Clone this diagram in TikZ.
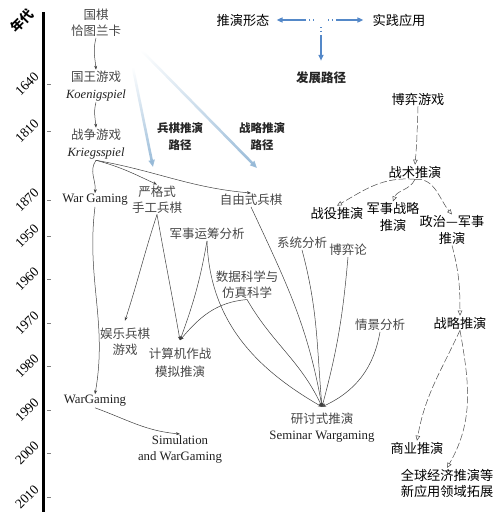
\documentclass[tikz,border=0pt]{standalone}
\usepackage{fontspec}
\setmainfont{Liberation Serif}
\newfontfamily\cjk{Noto Sans CJK SC}
\usetikzlibrary{arrows.meta,fadings}
\definecolor{crossblue}{RGB}{84,136,200}
\definecolor{routeblue}{RGB}{150,185,215}

\tikzset{
  kai/.style={text=black!72, font=\cjk\fontsize{12.5}{16}\selectfont, align=center, inner sep=1pt},
  hei/.style={text=black, font=\cjk\fontsize{13.2}{16.5}\selectfont, align=center, inner sep=1pt},
  latin/.style={text=black!88, font=\fontsize{12.8}{16}\selectfont, align=center, inner sep=1pt},
  lbl/.style={text=black!85, font=\cjk\bfseries\fontsize{11.5}{16.5}\selectfont, align=center, inner sep=1pt},
  arr/.style={draw=black!75, line width=0.5pt, -{Stealth[length=4pt,width=3pt]}},
  dasharr/.style={draw=black!70, line width=0.5pt, dash pattern=on 7pt off 2.5pt, -{Triangle[open,length=5pt,width=4.5pt]}},
  crossarr/.style={draw=crossblue, line width=1.6pt, dash pattern=on 1.2pt off 2.5pt on 1.2pt off 3pt on 80pt, -{Triangle[length=6pt,width=5pt]}},
  routearr/.style={draw=routeblue, line width=2.6pt, -{Triangle[length=7pt,width=6pt]}, path fading=north},
}

\begin{document}
\begin{tikzpicture}[x=1pt,y=1pt,yscale=-1]
\useasboundingbox (0,0) rectangle (500,522);

% Time axis
\draw[line width=3.6pt] (43.5,12) -- (43.5,512);
\node[rotate=45, font=\cjk\bfseries\fontsize{13}{13}\selectfont, inner sep=0pt] (era) at (22,21) {年代};
\foreach \yr/\yy in {1640/84, 1810/131, 1870/200, 1950/236, 1960/279, 1970/323, 1980/366, 1990/410, 2000/453, 2010/497} {
  \draw[black!50] (47,\yy) -- (51,\yy);
  \node[rotate=45, font=\fontsize{13.5}{13.5}\selectfont, inner sep=0pt] (y\yr) at (27,\yy) {\yr};
}

% Legend
\node[hei] (form) at (243,20) {推演形态};
\node[hei] (practice) at (399,20) {实践应用};
\node[lbl, font=\cjk\bfseries\fontsize{12.5}{16}\selectfont] (route) at (321,78) {发展路径};
\coordinate (hubL) at (314,20);
\coordinate (hubR) at (328,20);
\coordinate (hubD) at (321,27);
\draw[crossarr, shorten >=6pt] (hubL) -- (form.east);
\draw[crossarr, shorten >=8pt] (hubR) -- (practice.west);
\draw[crossarr, shorten >=10pt] (hubD) -- (route.north);

% Wargame forms
\node[kai] (chess) at (96,23) {国棋\\恰图兰卡};
\node[kai] (king) at (96,86) {国王游戏\\[1pt]{\rmfamily\itshape\color{black!88} Koenigspiel}};
\node[kai] (kriegs) at (96,144) {战争游戏\\[1pt]{\rmfamily\itshape\color{black!88} Kriegsspiel}};
\node[latin] (wg1) at (95,200) {War Gaming};
\node[kai] (strict) at (157,199.5) {严格式\\手工兵棋};
\node[kai] (free) at (251,200) {自由式兵棋};
\node[kai] (opres) at (207,234) {军事运筹分析};
\node[kai] (data) at (247,284.5) {数据科学与\\仿真科学};
\node[kai] (sysan) at (302,243) {系统分析};
\node[kai] (gamet) at (348,250) {博弈论};
\node[kai] (scene) at (380,325) {情景分析};
\node[kai, outer sep=6pt] (hobby) at (125,341.5) {娱乐兵棋\\游戏};
\node[kai, outer sep=7pt] (comp) at (180,363) {计算机作战\\[2pt]模拟推演};
\node[latin] (wg2) at (95,401) {WarGaming};
\node[latin] (simwg) at (180,449) {Simulation\\and WarGaming};
\node[kai, outer sep=5pt] (seminar) at (322,427.5) {研讨式推演\\{\rmfamily\color{black!88}\fontsize{12.8}{16}\selectfont Seminar Wargaming}};

% Route labels
\node[lbl] (wgpath) at (180,136.5) {兵棋推演\\路径};
\node[lbl] (stpath) at (262,136.5) {战略推演\\路径};
\coordinate (wgfrom) at (133,68);
\coordinate (wgto) at (153,167);
\coordinate (stfrom) at (142,51);
\coordinate (stto) at (257,168);
\draw[routearr] (wgfrom) -- (wgto);
\draw[routearr] (stfrom) -- (stto);

% Applications
\node[hei] (gameplay) at (418,99) {博弈游戏};
\node[hei] (tactic) at (415,172) {战术推演};
\node[hei] (campaign) at (337,213) {战役推演};
\node[hei] (milstrat) at (393,217) {军事战略\\推演};
\node[hei] (polmil) at (452,230) {政治—军事\\推演};
\node[hei] (strat) at (460,323) {战略推演};
\node[hei] (biz) at (417,448) {商业推演};
\node[hei] (global) at (447,483.5) {全球经济推演等\\新应用领域拓展};

% Left chain
\draw[arr] (chess.south) to[out=105,in=-95] (king.north);
\draw[arr] (king.south) to[out=105,in=-95] (kriegs.north);
\draw[arr] (kriegs.south) to[out=125,in=-85] (wg1.north);
\draw[arr] (kriegs.south) to[out=15,in=-155] (strict.north);
\draw[arr] (kriegs.south) to[out=10,in=-175] (free.north);
\draw[arr] (wg1.south) to[out=97,in=-80] (wg2.north);
\draw[arr] (wg2.south) to[out=20,in=-175] (simwg.north);

% Middle web
\draw[arr] (strict.south) to[out=108,in=-72] (hobby.north);
\draw[arr] (strict.south) to[out=80,in=-100] (comp.north);
\draw[arr] (opres.south) to[out=100,in=-70] (comp.north);
\draw[arr] (data.south) to[out=175,in=-50] (comp.north);
\draw[arr] (opres.south) to[out=88,in=-150] (seminar.north);
\draw[arr] (data.south) to[out=60,in=-115] (seminar.north);
\draw[arr] (free.south) to[out=65,in=-100] (seminar.north);
\draw[arr] (sysan.south) to[out=75,in=-95] (seminar.north);
\draw[arr] (gamet.south) to[out=95,in=-75] (seminar.north);
\draw[arr] (scene.south) to[out=100,in=-25] (seminar.north);

% Right chain
\draw[dasharr] (gameplay.south) to[out=92,in=-85] (tactic.north);
\draw[dasharr] (tactic.south) to[out=185,in=-30] (campaign.north);
\draw[dasharr] (tactic.south) to[out=115,in=-70] (milstrat.north);
\draw[dasharr] (tactic.south) to[out=-5,in=-130] (polmil.north);
\draw[dasharr] (polmil.south) to[out=75,in=-90] (strat.north);
\draw[dasharr] (strat.south) to[out=115,in=-80] (biz.north);
\draw[dasharr] (strat.south) to[out=80,in=-60] (global.north);
\end{tikzpicture}
\end{document}
